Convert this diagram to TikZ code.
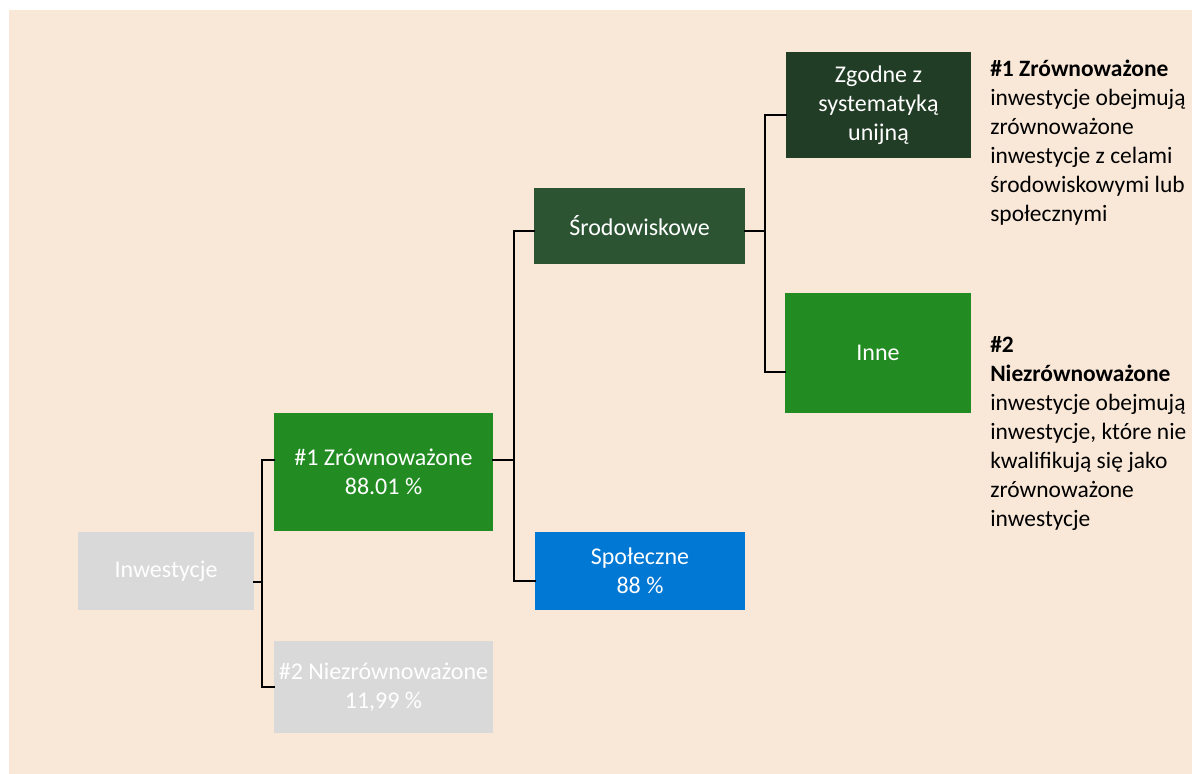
\documentclass[tikz,border=0pt]{standalone}
\usepackage{fontspec}
\setmainfont{Carlito}
\definecolor{bgc}{HTML}{F9E8D8}
\definecolor{grayc}{HTML}{D9D9D9}
\definecolor{greenc}{HTML}{228B22}
\definecolor{dgreenc}{HTML}{2C5433}
\definecolor{ddgreenc}{HTML}{223D25}
\definecolor{bluec}{HTML}{0078D4}
\tikzset{
  box/.style={rectangle, inner sep=0pt, align=center, text=white,
    font=\fontsize{18pt}{21.75pt}\selectfont},
  conn/.style={draw=black, line width=1.5pt, line cap=rect},
  note/.style={anchor=base west, inner sep=0pt, text=black,
    font=\fontsize{17.6pt}{21.75pt}\selectfont}
}
\begin{document}
\begin{tikzpicture}[x=0.75pt,y=-0.75pt]
\useasboundingbox (0,0) rectangle (1192,774);
\fill[bgc] (9,10) rectangle (1192,774);

\node[box, fill=grayc, minimum width=132pt, minimum height=58.5pt] (inw) at (166,571) {Inwestycje};
\node[box, fill=greenc, minimum width=164.25pt, minimum height=88.5pt] (z1) at (383.5,472) {\#1 Zrównoważone\\88.01 \%};
\node[box, fill=grayc, minimum width=164.25pt, minimum height=69pt] (z2) at (383.5,687) {\#2 Niezrównoważone\\11,99 \%};
\node[box, fill=dgreenc, minimum width=158.25pt, minimum height=57pt] (sro) at (639.5,226) {Środowiskowe};
\node[box, fill=bluec, minimum width=157.5pt, minimum height=58.5pt] (spo) at (640,571) {Społeczne\\88 \%};
\node[box, fill=ddgreenc, minimum width=138.75pt, minimum height=79.5pt] (zgo) at (878.5,105) {Zgodne z\\systematyką\\unijną};
\node[box, fill=greenc, minimum width=139.5pt, minimum height=90pt] (inne) at (878,353) {Inne};

% connectors
\coordinate (j1) at (262,582);
\coordinate (j2) at (514,460);
\coordinate (j3) at (765,231);
\draw[conn] (inw.east |- j1) -- (j1);
\draw[conn] (z1.west |- 0,460) -| (j1 |- 0,687) -- (z2.west |- 0,687);
\draw[conn] (z1.east |- j2) -- (j2);
\draw[conn] (sro.west |- j3) -| (j2 |- 0,581) -- (spo.west |- 0,581);
\draw[conn] (sro.east |- j3) -- (j3);
\draw[conn] (zgo.west |- 0,115) -| (j3 |- 0,372) -- (inne.west |- 0,372);

% notes
\node[note] (n1) at (990,76.5) {\begin{tabular}[t]{@{}l@{}}\textbf{\#1 Zrównoważone}\\inwestycje obejmują\\zrównoważone\\inwestycje z celami\\środowiskowymi lub\\społecznymi\end{tabular}};
\node[note] (n2) at (990,352) {\begin{tabular}[t]{@{}l@{}}\textbf{\#2}\\\textbf{Niezrównoważone}\\inwestycje obejmują\\inwestycje, które nie\\kwalifikują się jako\\zrównoważone\\inwestycje\end{tabular}};
\end{tikzpicture}
\end{document}
